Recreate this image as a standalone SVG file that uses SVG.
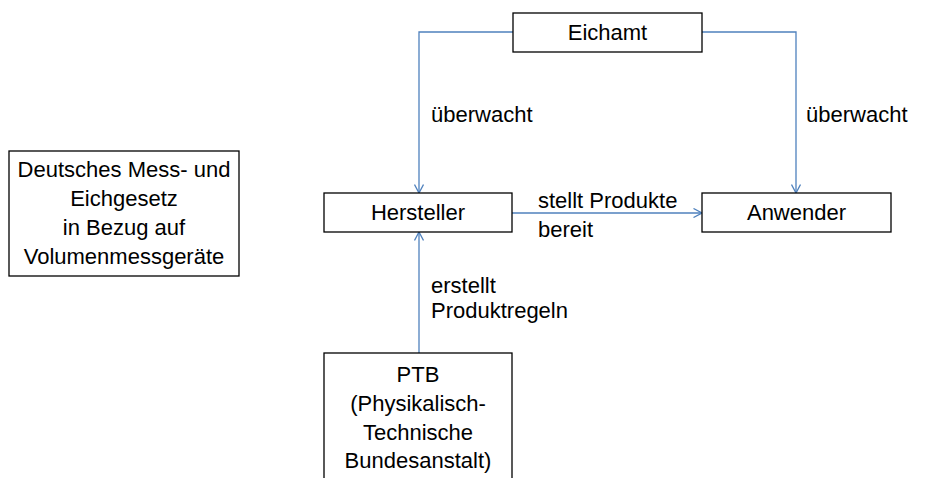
<svg xmlns="http://www.w3.org/2000/svg" width="928" height="478" viewBox="0 0 928 478">
<defs>
<style>
.box{fill:#fff;stroke:#000;stroke-width:1.3}
.t{font-family:"Liberation Sans",Arial,sans-serif;font-size:22px;fill:#000}
.c{text-anchor:middle}
.ln{fill:none;stroke:#4f81bd;stroke-width:1.3}
</style>
<marker id="ah" viewBox="0 0 10 10" refX="9.5" refY="5" markerWidth="10" markerHeight="10" markerUnits="userSpaceOnUse" orient="auto">
<path d="M1,0.5 L9.5,5 L1,9.5" fill="none" stroke="#4f81bd" stroke-width="1.3"/>
</marker>
</defs>
<rect width="928" height="478" fill="#fff"/>
<g id="connectors">
<path class="ln" d="M513,32 H419 V193" marker-end="url(#ah)"/>
<path class="ln" d="M702,32 H796 V193" marker-end="url(#ah)"/>
<path class="ln" d="M512,213 H702" marker-end="url(#ah)"/>
<path class="ln" d="M419,353 V232" marker-end="url(#ah)"/>
<text class="t" x="431" y="122">überwacht</text>
<text class="t" x="806" y="122">überwacht</text>
<text class="t" x="538" y="208">stellt Produkte</text>
<text class="t" x="538" y="237">bereit</text>
<text class="t" x="431" y="293">erstellt</text>
<text class="t" x="431" y="318">Produktregeln</text>
</g>
<g id="eichamt">
<rect class="box" x="513" y="13" width="189" height="39"/>
<text class="t c" x="607.5" y="40">Eichamt</text>
</g>
<g id="hersteller">
<rect class="box" x="324" y="193" width="188" height="39"/>
<text class="t c" x="418" y="220">Hersteller</text>
</g>
<g id="anwender">
<rect class="box" x="702" y="193" width="189" height="39"/>
<text class="t c" x="796.5" y="220">Anwender</text>
</g>
<g id="gesetz">
<rect class="box" x="9" y="151" width="230" height="125"/>
<text class="t c" x="124" y="177">Deutsches Mess- und</text>
<text class="t c" x="124" y="206">Eichgesetz</text>
<text class="t c" x="124" y="235">in Bezug auf</text>
<text class="t c" x="124" y="264">Volumenmessgeräte</text>
</g>
<g id="ptb">
<rect class="box" x="324" y="353" width="188" height="140"/>
<text class="t c" x="418" y="382">PTB</text>
<text class="t c" x="418" y="411">(Physikalisch-</text>
<text class="t c" x="418" y="440">Technische</text>
<text class="t c" x="418" y="468">Bundesanstalt)</text>
</g>
</svg>
